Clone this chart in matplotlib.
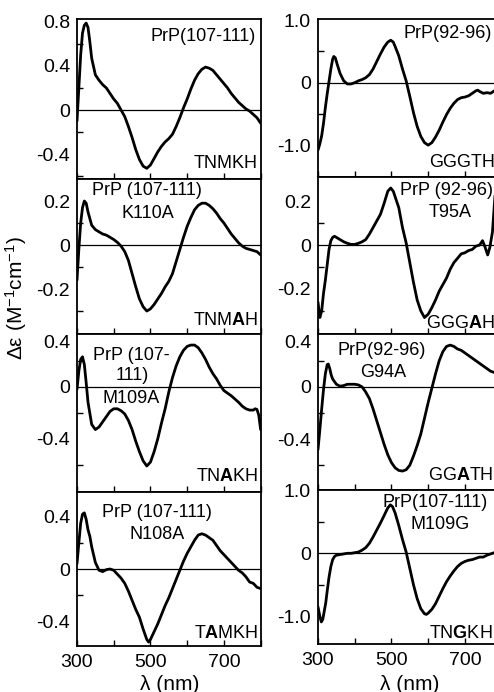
import matplotlib
matplotlib.use("Agg")
import matplotlib.pyplot as plt
from matplotlib.ticker import FixedLocator

plt.rcParams['font.family'] = ['Liberation Sans', 'DejaVu Sans']
plt.rcParams['mathtext.fontset'] = 'custom'
plt.rcParams['mathtext.rm'] = 'Liberation Sans'
plt.rcParams['mathtext.it'] = 'Liberation Sans:italic'
plt.rcParams['mathtext.bf'] = 'Liberation Sans:bold'
plt.rcParams['axes.unicode_minus'] = False

# ---------------- data ----------------
wl_tnmkh = [300, 305, 310, 315, 320, 325, 330, 335, 340, 350, 360, 370, 380, 390, 400, 410, 420, 430, 440,
            450, 460, 470, 480, 490, 500, 510, 520, 530, 540, 550, 560, 570, 580, 590, 600, 610, 620, 630,
            640, 650, 660, 670, 680, 690, 700, 710, 720, 730, 740, 750, 760, 770, 780, 790, 800]
cd_tnmkh = [-0.10, 0.20, 0.50, 0.70, 0.77, 0.79, 0.75, 0.62, 0.47, 0.32, 0.27, 0.23, 0.20, 0.15, 0.10, 0.06,
            0.00, -0.06, -0.15, -0.25, -0.36, -0.45, -0.51, -0.53, -0.50, -0.44, -0.38, -0.33, -0.29, -0.26,
            -0.22, -0.15, -0.07, 0.02, 0.10, 0.19, 0.27, 0.33, 0.37, 0.39, 0.38, 0.36, 0.32, 0.28, 0.24, 0.20,
            0.15, 0.11, 0.07, 0.04, 0.01, -0.01, -0.04, -0.07, -0.12]

wl_tnmah = [300, 305, 310, 315, 320, 325, 330, 340, 350, 360, 370, 380, 390, 400, 410, 420, 430, 440, 450,
            460, 470, 480, 490, 500, 510, 520, 530, 540, 550, 560, 570, 580, 590, 600, 610, 620, 630, 640,
            650, 660, 670, 680, 690, 700, 710, 720, 730, 740, 750, 760, 770, 780, 790, 800]
cd_tnmah = [-0.16, -0.02, 0.10, 0.17, 0.20, 0.19, 0.15, 0.09, 0.07, 0.06, 0.05, 0.045, 0.035, 0.025, 0.012,
            -0.005, -0.03, -0.07, -0.13, -0.19, -0.245, -0.28, -0.30, -0.29, -0.27, -0.245, -0.22, -0.19,
            -0.165, -0.13, -0.075, -0.02, 0.035, 0.085, 0.125, 0.16, 0.18, 0.19, 0.19, 0.18, 0.165, 0.145,
            0.12, 0.10, 0.075, 0.05, 0.03, 0.01, -0.005, -0.015, -0.02, -0.025, -0.03, -0.045]

wl_tnakh = [300, 305, 310, 315, 320, 325, 330, 340, 350, 360, 370, 380, 390, 400, 410, 420, 430, 440, 450,
            460, 470, 480, 490, 500, 510, 520, 530, 540, 550, 560, 570, 580, 590, 600, 610, 620, 630, 640,
            650, 660, 670, 680, 690, 700, 710, 720, 730, 740, 750, 760, 770, 780, 785, 790, 795, 800]
cd_tnakh = [-0.02, 0.12, 0.21, 0.23, 0.17, 0.03, -0.12, -0.29, -0.33, -0.31, -0.27, -0.23, -0.19, -0.17,
            -0.17, -0.185, -0.21, -0.26, -0.33, -0.42, -0.50, -0.57, -0.61, -0.58, -0.50, -0.40, -0.28,
            -0.17, -0.04, 0.07, 0.16, 0.23, 0.28, 0.31, 0.32, 0.32, 0.30, 0.26, 0.21, 0.15, 0.10, 0.06, 0.01,
            -0.03, -0.05, -0.07, -0.095, -0.12, -0.15, -0.17, -0.18, -0.18, -0.17, -0.175, -0.22, -0.33]

wl_tamkh = [300, 305, 310, 315, 320, 325, 330, 335, 340, 350, 360, 370, 380, 390, 400, 410, 420, 430, 440,
            450, 460, 470, 480, 490, 495, 500, 510, 520, 530, 540, 550, 560, 570, 580, 590, 600, 610, 620,
            630, 640, 650, 660, 670, 680, 690, 700, 710, 720, 730, 740, 750, 760, 770, 780, 790, 800]
cd_tamkh = [0.04, 0.20, 0.35, 0.42, 0.43, 0.38, 0.30, 0.25, 0.17, 0.05, -0.01, -0.02, -0.005, 0.0, -0.01,
            -0.04, -0.07, -0.11, -0.17, -0.24, -0.31, -0.37, -0.46, -0.54, -0.56, -0.54, -0.48, -0.42, -0.35,
            -0.28, -0.22, -0.15, -0.08, -0.01, 0.06, 0.12, 0.17, 0.22, 0.26, 0.27, 0.26, 0.24, 0.22, 0.18,
            0.14, 0.11, 0.08, 0.05, 0.02, -0.01, -0.03, -0.06, -0.10, -0.11, -0.14, -0.15]

wl_gggth = [300, 305, 310, 315, 320, 325, 330, 335, 340, 343, 347, 352, 360, 370, 380, 390, 400, 410, 420,
            430, 440, 450, 460, 470, 480, 490, 498, 505, 510, 520, 530, 540, 550, 560, 570, 580, 590, 600,
            610, 620, 630, 640, 650, 660, 670, 680, 690, 700, 710, 720, 730, 735, 740, 750, 760, 770, 780,
            790, 800]
cd_gggth = [-1.08, -0.98, -0.85, -0.65, -0.40, -0.18, 0.02, 0.22, 0.38, 0.42, 0.40, 0.30, 0.15, 0.03, -0.02,
            -0.02, 0.0, 0.03, 0.05, 0.08, 0.13, 0.22, 0.34, 0.46, 0.57, 0.65, 0.68, 0.65, 0.58, 0.43, 0.22,
            0.03, -0.22, -0.48, -0.70, -0.86, -0.96, -1.00, -0.96, -0.87, -0.76, -0.63, -0.51, -0.41, -0.33,
            -0.27, -0.24, -0.23, -0.21, -0.17, -0.13, -0.12, -0.14, -0.17, -0.16, -0.17, -0.13, -0.12, -0.13]

wl_gggah = [300, 305, 310, 315, 320, 325, 330, 335, 340, 345, 350, 360, 370, 380, 390, 400, 410, 420, 430,
            440, 450, 460, 470, 480, 490, 498, 505, 510, 520, 530, 540, 550, 560, 570, 580, 590, 600, 610,
            620, 630, 640, 650, 660, 670, 680, 690, 700, 710, 720, 730, 740, 748, 755, 762, 768, 775, 780,
            785]
cd_gggah = [-0.26, -0.33, -0.30, -0.22, -0.16, -0.09, -0.02, 0.02, 0.035, 0.04, 0.035, 0.025, 0.015, 0.008,
            0.003, 0.003, 0.008, 0.015, 0.025, 0.05, 0.08, 0.11, 0.14, 0.19, 0.245, 0.26, 0.245, 0.22, 0.17,
            0.08, 0.01, -0.08, -0.17, -0.25, -0.30, -0.33, -0.315, -0.285, -0.25, -0.21, -0.18, -0.15, -0.11,
            -0.08, -0.06, -0.04, -0.035, -0.025, -0.02, -0.005, 0.0, 0.02, -0.01, -0.045, -0.01, 0.06, 0.18,
            0.30]

wl_ggath = [300, 305, 310, 315, 320, 325, 328, 332, 336, 340, 350, 360, 370, 380, 390, 400, 410, 420, 430,
            440, 450, 460, 470, 480, 490, 500, 510, 520, 530, 540, 550, 560, 570, 580, 590, 600, 610, 620,
            630, 640, 650, 660, 670, 680, 690, 700, 710, 720, 730, 740, 750, 760, 770, 780, 790, 800]
cd_ggath = [-0.48, -0.33, -0.17, -0.02, 0.10, 0.17, 0.175, 0.14, 0.09, 0.06, 0.02, 0.005, 0.01, 0.02, 0.02,
            0.02, 0.015, 0.0, -0.04, -0.09, -0.17, -0.26, -0.35, -0.44, -0.52, -0.58, -0.62, -0.64, -0.645,
            -0.635, -0.60, -0.53, -0.45, -0.36, -0.24, -0.12, -0.01, 0.10, 0.20, 0.27, 0.31, 0.32, 0.31, 0.29,
            0.28, 0.26, 0.24, 0.22, 0.20, 0.18, 0.16, 0.14, 0.12, 0.11, 0.10, 0.09]

wl_tngkh = [300, 305, 309, 313, 317, 321, 325, 330, 335, 340, 345, 350, 360, 370, 380, 390, 400, 410, 420,
            430, 440, 450, 460, 470, 480, 490, 497, 503, 510, 520, 530, 540, 550, 560, 570, 580, 590, 595,
            600, 610, 620, 630, 640, 650, 660, 670, 680, 690, 700, 710, 720, 730, 740, 750, 760, 770, 780,
            790, 800]
cd_tngkh = [-0.85, -1.00, -1.09, -1.05, -0.92, -0.79, -0.60, -0.38, -0.21, -0.10, -0.05, -0.03, -0.02, -0.01,
            0.0, 0.0, 0.01, 0.02, 0.05, 0.09, 0.16, 0.26, 0.37, 0.48, 0.60, 0.72, 0.77, 0.74, 0.64, 0.44, 0.22,
            0.02, -0.24, -0.50, -0.72, -0.88, -0.96, -0.97, -0.95, -0.89, -0.80, -0.68, -0.56, -0.45, -0.36,
            -0.28, -0.21, -0.16, -0.13, -0.11, -0.10, -0.08, -0.06, -0.06, -0.03, -0.01, 0.01, 0.02, 0.03]

x_ticks = [300, 500, 700]
x_tick_labels = ['300', '500', '700']
x_label = 'λ (nm)'
y_label = 'Δε (M$^{-1}$cm$^{-1}$)'

# per panel: (wl, cd, ylim, yticks, yticklabels, minor yticks)
left_panels = [
    (wl_tnmkh, cd_tnmkh, (-0.627, 0.827), [0.8, 0.4, 0, -0.4], ['0.8', '0.4', '0', '-0.4'],
     [0.6, 0.2, -0.2, -0.6]),
    (wl_tnmah, cd_tnmah, (-0.402, 0.30), [0.2, 0, -0.2], ['0.2', '0', '-0.2'], [0.1, -0.1, -0.3]),
    (wl_tnakh, cd_tnakh, (-0.81, 0.409), [0.4, 0, -0.4], ['0.4', '0', '-0.4'], [0.2, -0.2, -0.6]),
    (wl_tamkh, cd_tamkh, (-0.59, 0.59), [0.4, 0, -0.4], ['0.4', '0', '-0.4'], [0.2, -0.2]),
]
right_panels = [
    (wl_gggth, cd_gggth, (-1.51, 1.02), [1.0, 0, -1.0], ['1.0', '0', '-1.0'], [0.5, -0.5]),
    (wl_gggah, cd_gggah, (-0.405, 0.31), [0.2, 0, -0.2], ['0.2', '0', '-0.2'], [0.1, -0.1, -0.3]),
    (wl_ggath, cd_ggath, (-0.79, 0.405), [0.4, 0, -0.4], ['0.4', '0', '-0.4'], [0.2, -0.2, -0.6]),
    (wl_tngkh, cd_tngkh, (-1.44, 1.005), [1.0, 0, -1.0], ['1.0', '0', '-1.0'], [0.5, -0.5]),
]

# texts (axes fraction positions)
left_texts = [
    [('PrP(107-111)', 0.973, 0.888, 'right'), ('TNMKH', 0.984, 0.10, 'right')],
    [('PrP (107-111)', 0.38, 0.924, 'center'), ('K110A', 0.386, 0.778, 'center'),
     ('TNM$\\mathbf{A}$H', 0.984, 0.087, 'right')],
    [('PrP (107-', 0.293, 0.864, 'center'), ('111)', 0.30, 0.732, 'center'), ('M109A', 0.293, 0.587, 'center'),
     ('TN$\\mathbf{A}$KH', 0.984, 0.095, 'right')],
    [('PrP (107-111)', 0.435, 0.864, 'center'), ('N108A', 0.435, 0.727, 'center'),
     ('T$\\mathbf{A}$MKH', 0.984, 0.084, 'right')],
]
right_texts = [
    [('PrP(92-96)', 0.462, 0.911, 'left'), ('GGGTH', 0.603, 0.089, 'left')],
    [('PrP (92-96)', 0.446, 0.913, 'left'), ('T95A', 0.717, 0.771, 'center'),
     ('GGG$\\mathbf{A}$H', 0.587, 0.064, 'left')],
    [('PrP(92-96)', 0.348, 0.897, 'center'), ('G94A', 0.353, 0.756, 'center'),
     ('GG$\\mathbf{A}$TH', 0.598, 0.096, 'left')],
    [('PrP(107-111)', 0.353, 0.922, 'left'), ('M109G', 0.663, 0.773, 'center'),
     ('TN$\\mathbf{G}$KH', 0.603, 0.071, 'left')],
]

W, H = 494, 692
fig = plt.figure(figsize=(W / 100, H / 100), dpi=100)

left_rows = [(19, 179), (179, 333.5), (333.5, 492), (492, 646)]
right_rows = [(19, 177), (177, 334), (334, 490), (490, 644)]
col_x = [77, 318]
col_w = 184


def make_panel(x0, row, panel, texts, bottom, shift_top):
    ytop, ybot = row
    ax = fig.add_axes([x0 / W, 1 - ybot / H, col_w / W, (ybot - ytop) / H])
    wl, cd, ylim, yt, ytl, ymin = panel
    ax.plot(wl, cd, color='black', lw=2.0, solid_joinstyle='round', solid_capstyle='round')
    ax.axhline(0, color='black', lw=0.9)
    ax.set_xlim(300, 801)
    ax.set_ylim(*ylim)
    ax.set_yticks(yt)
    ax.set_yticklabels(ytl)
    ax.yaxis.set_minor_locator(FixedLocator(ymin))
    ax.set_xticks(x_ticks)
    ax.xaxis.set_minor_locator(FixedLocator([400, 600, 800]))
    if bottom:
        ax.set_xticklabels(x_tick_labels)
    else:
        ax.set_xticklabels([])
    ax.tick_params(axis='y', which='major', length=0, pad=5, labelsize=14)
    ax.tick_params(axis='y', which='minor', length=4, width=1.0, direction='in')
    ax.tick_params(axis='x', which='both', length=4, width=1.0, direction='in', top=False,
                   pad=6, labelsize=14)
    for s in ax.spines.values():
        s.set_linewidth(1.3)
    if shift_top:
        ax.get_yticklabels()[0].set_verticalalignment('top')
    for txt, tx, ty, ha in texts:
        ax.text(tx, ty, txt, transform=ax.transAxes, ha=ha, va='center', fontsize=13)
    return ax


for i in range(4):
    make_panel(col_x[0], left_rows[i], left_panels[i], left_texts[i], i == 3, i == 2)
    make_panel(col_x[1], right_rows[i], right_panels[i], right_texts[i], i == 3, i == 2)

fig.text(170 / W, 1 - 684 / H, x_label, ha='center', va='center', fontsize=15)
fig.text(410 / W, 1 - 684 / H, x_label, ha='center', va='center', fontsize=15)
fig.text(16 / W, 1 - 298 / H, y_label, ha='center', va='center', rotation=90, fontsize=15)

fig.savefig('out.png', dpi=100)
